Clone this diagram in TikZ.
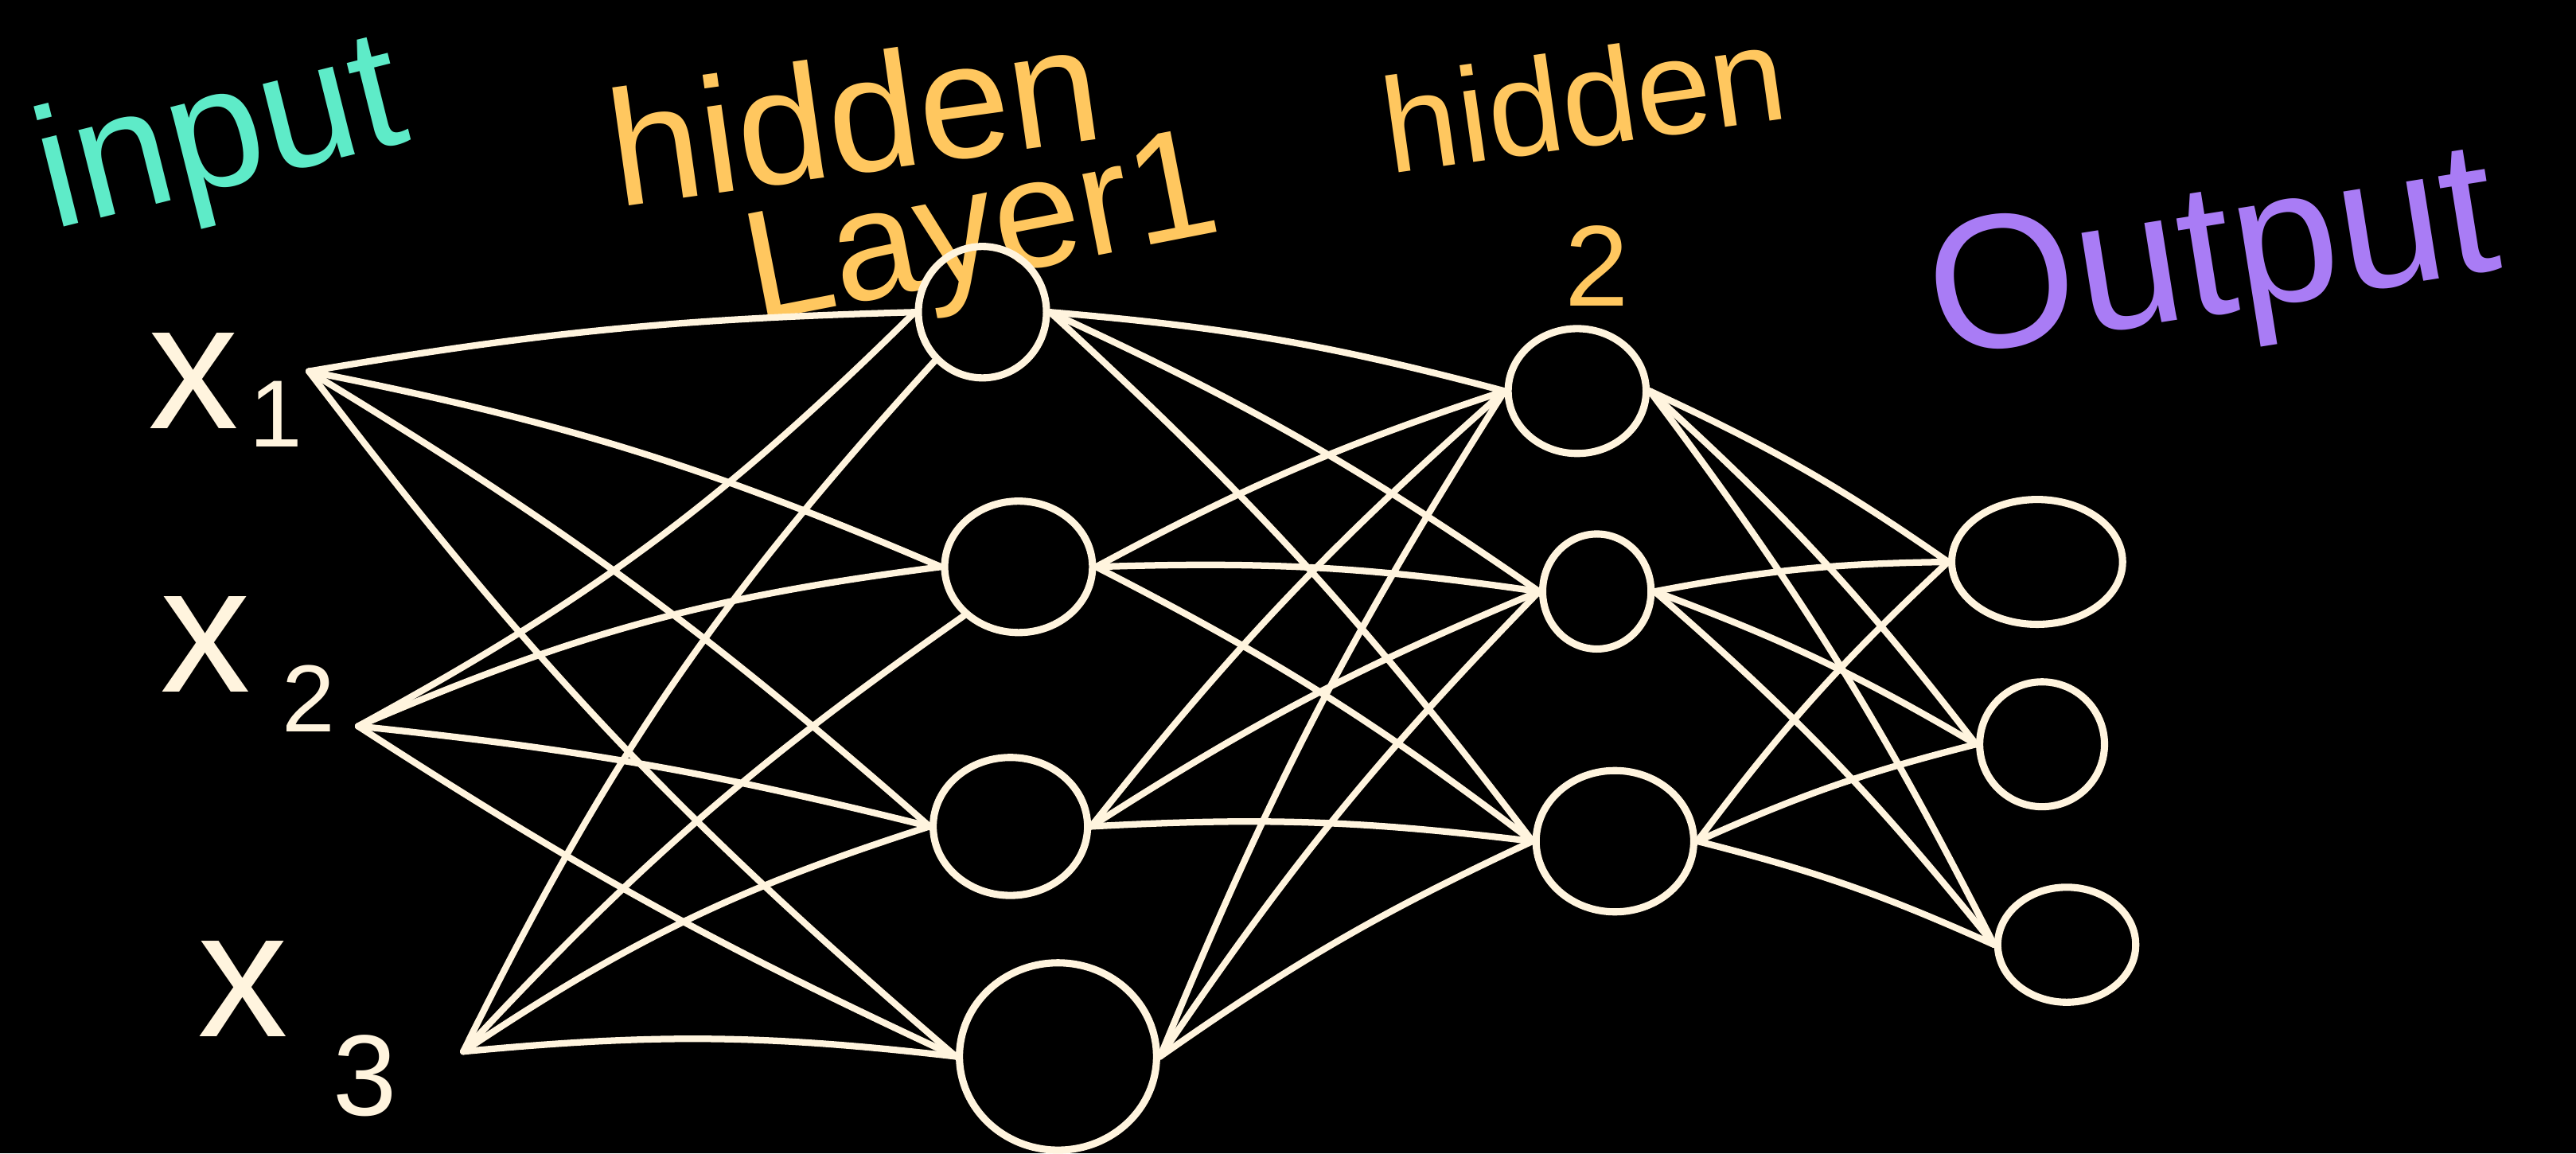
\documentclass[tikz,border=0pt]{standalone}
\usepackage{fontspec}
\setmainfont{Liberation Sans}
\definecolor{cream}{HTML}{FFF4DE}
\definecolor{orng}{HTML}{FFC75F}
\definecolor{teal2}{HTML}{5EEBC8}
\definecolor{purp}{HTML}{A97CF5}
\usetikzlibrary{shapes.geometric}
\tikzset{
  neuron/.style={draw=cream, line width=4.4pt, ellipse, inner sep=0pt},
  conn/.style={draw=cream, line width=4pt, line cap=round},
  lbl/.style={text=cream, inner sep=0pt},
  ttl/.style={inner sep=0pt, anchor=base west}
}
\begin{document}
\begin{tikzpicture}[x=1pt,y=1pt]
\fill[black] (0,0) rectangle (1568,-702);
\useasboundingbox (0,0) rectangle (1568,-702);

% titles
\node[ttl, text=teal2, rotate=14, font=\fontsize{104}{104}\selectfont] (tin) at (32,-140) {input};
\node[ttl, text=orng, rotate=8, font=\fontsize{100}{100}\selectfont] (th1) at (376,-126) {hidden};
\node[ttl, text=orng, rotate=11, font=\fontsize{95}{95}\selectfont] (tl1) at (460,-196) {Layer1};
\node[ttl, text=orng, rotate=8, font=\fontsize{82}{82}\selectfont] (th2) at (846,-106) {hidden};
\node[inner sep=0pt, text=orng, font=\fontsize{70}{70}\selectfont] (t2) at (972,-162) {2};
\node[ttl, text=purp, rotate=9, font=\fontsize{116}{116}\selectfont] (tout) at (1180,-218) {Output};

% input labels
\node[lbl, font=\fontsize{110}{110}\selectfont] (x1) at (118,-232) {x};
\node[lbl, font=\fontsize{58}{58}\selectfont] (s1) at (168,-252) {1};
\node[lbl, font=\fontsize{110}{110}\selectfont] (x2) at (125,-392) {x};
\node[lbl, font=\fontsize{58}{58}\selectfont] (s2) at (188,-425) {2};
\node[lbl, font=\fontsize{110}{110}\selectfont] (x3) at (148,-602) {x};
\node[lbl, font=\fontsize{70}{70}\selectfont] (s3) at (222,-655) {3};

\coordinate (i1) at (188,-226);
\coordinate (i2) at (218,-442);
\coordinate (i3) at (282,-640);

% hidden layer 1
\node[neuron, minimum width=78pt, minimum height=80pt] (h1a) at (598,-190) {};
\node[neuron, minimum width=90pt, minimum height=80pt] (h1b) at (620,-345) {};
\node[neuron, minimum width=94pt, minimum height=84pt] (h1c) at (615,-503) {};
\node[neuron, minimum width=120pt, minimum height=114pt] (h1d) at (644,-643) {};

% hidden layer 2
\node[neuron, minimum width=84pt, minimum height=76pt] (h2a) at (960,-238) {};
\node[neuron, minimum width=66pt, minimum height=70pt] (h2b) at (972,-360) {};
\node[neuron, minimum width=96pt, minimum height=86pt] (h2c) at (983,-512) {};

% output
\node[neuron, minimum width=104pt, minimum height=76pt] (o1) at (1240,-342) {};
\node[neuron, minimum width=76pt, minimum height=76pt] (o2) at (1243,-453) {};
\node[neuron, minimum width=84pt, minimum height=70pt] (o3) at (1258,-575) {};

% input -> hidden 1
\draw[conn] (i1) to[bend left=4] (h1a.west);
\draw[conn] (i1) to[bend left=6] (h1b.west);
\draw[conn] (i1) to[bend left=5] (h1c.west);
\draw[conn] (i1) to[bend right=6] (h1d.west);
\draw[conn] (i2) to[bend right=8] (h1a.west);
\draw[conn] (i2) to[bend left=8] (h1b.west);
\draw[conn] (i2) to[bend left=4] (h1c.west);
\draw[conn] (i2) to[bend right=4] (h1d.west);
\draw[conn] (i3) to[bend left=8] (h1a.south west);
\draw[conn] (i3) to[bend left=6] (h1b.south west);
\draw[conn] (i3) to[bend left=8] (h1c.west);
\draw[conn] (i3) to[bend left=6] (h1d.west);

% hidden 1 -> hidden 2
\foreach \s in {h1a,h1b,h1c,h1d}{
  \foreach \t in {h2a,h2b,h2c}{
    \draw[conn] (\s.east) to[bend left=5] (\t.west);
  }
}

% hidden 2 -> output
\foreach \s in {h2a,h2b,h2c}{
  \foreach \t in {o1,o2,o3}{
    \draw[conn] (\s.east) to[bend left=5] (\t.west);
  }
}
\end{tikzpicture}
\end{document}
